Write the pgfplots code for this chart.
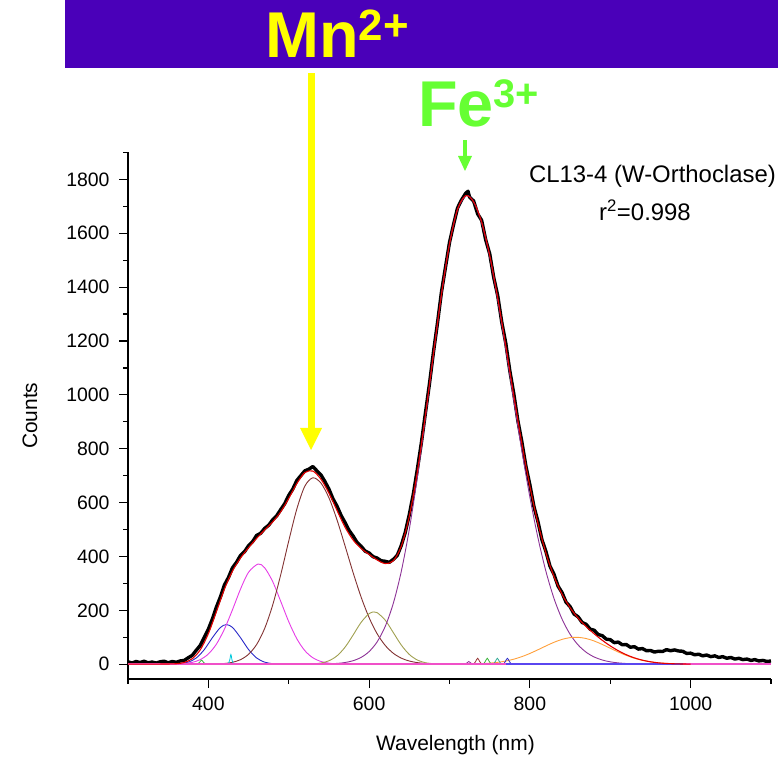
\documentclass[border=0pt]{standalone}
\usepackage{pgfplots}
\pgfplotsset{compat=1.18}
\usepackage{fontspec}
\setmainfont{Liberation Sans}
\definecolor{bannerc}{RGB}{74,0,185}
\definecolor{mnyellow}{RGB}{255,255,0}
\definecolor{fegreen}{RGB}{102,255,51}
\definecolor{cB}{RGB}{40,40,200}
\definecolor{cM}{RGB}{230,60,230}
\definecolor{cR}{RGB}{130,50,50}
\definecolor{cO}{RGB}{160,160,80}
\definecolor{cP}{RGB}{140,50,150}
\definecolor{cOr}{RGB}{255,160,60}
\definecolor{cCy}{RGB}{0,200,220}
\definecolor{cGr}{RGB}{60,180,60}
\definecolor{cTe}{RGB}{50,170,150}
\definecolor{cBr}{RGB}{150,50,50}
\definecolor{pinkc}{RGB}{240,80,200}
\definecolor{bluebase}{RGB}{90,70,240}
\definecolor{fitred}{RGB}{230,0,0}
\begin{document}
\begin{tikzpicture}[x=1bp,y=1bp]
\useasboundingbox (0,0) rectangle (778,757);
% banner
\fill[bannerc] (65,689) rectangle (778,757);
\node[anchor=base west, inner sep=0, text=mnyellow, font=\bfseries\fontsize{65}{65}\selectfont] at (265,699) {Mn\raisebox{17bp}{\fontsize{44}{44}\selectfont 2+}};
\node[anchor=base west, inner sep=0, text=fegreen, font=\bfseries\fontsize{65}{65}\selectfont] at (418,630) {Fe\raisebox{19bp}{\fontsize{40}{40}\selectfont 3+}};
% arrows
\fill[mnyellow] (307.5,684) rectangle (314.5,327);
\fill[mnyellow] (300,329) -- (322,329) -- (311,307) -- cycle;
\fill[fegreen] (463,617) rectangle (467,600);
\fill[fegreen] (458,601) -- (472,601) -- (465,586) -- cycle;
% annotations
\node[anchor=base east, inner sep=0, font=\fontsize{24}{27}\selectfont] at (776,574) {CL13-4 (W-Orthoclase)};
\node[anchor=base, inner sep=0, font=\fontsize{24}{27}\selectfont] at (645,536) {r\textsuperscript{2}=0.998};
\begin{axis}[
  at={(128bp,78bp)}, anchor=south west,
  width=643bp, height=526.5bp, scale only axis,
  xmin=300, xmax=1100, ymin=-55, ymax=1900,
  axis x line*=bottom, axis y line*=left,
  axis line style={line width=1.3bp},
  tick align=outside,
  major tick length=9bp, minor tick length=5bp,
  every tick/.style={line width=1.2bp, black},
  xtick={400,600,800,1000}, minor xtick={300,500,700,900,1100},
  ytick={0,200,...,1800}, minor ytick={100,300,...,1900},
  ticklabel style={font=\fontsize{19.5}{22}\selectfont},
  xticklabel style={yshift=-5bp},
  yticklabel style={xshift=-6bp},
  /pgf/number format/assume math mode=true,
  /pgf/number format/1000 sep={},
  xlabel={Wavelength (nm)}, ylabel={Counts},
  label style={font=\fontsize{21}{24}\selectfont},
  xlabel style={at={(axis description cs:0.5,0)}, anchor=center, yshift=-66bp, xshift=6bp},
  ylabel style={at={(axis description cs:-0.1524,0.5)}, anchor=center, rotate=0},
  clip=false,
]
% measured data
\addplot[black, line width=3.4bp, line join=round] coordinates {
(300,9)(305,4)(310,10)(315,6)(320,11)(325,5)(330,8)(335,4)(340,9)(345,11)(350,5)(355,10)(360,7)(365,12)(370,14)(375,24)(380,33)(385,52)(390,70)(395,100)
(400,130)(405,168)(410,212)(415,250)(420,294)(425,322)(430,358)(435,378)(440,404)(445,418)(450,440)(455,455)(460,478)(465,486)(470,504)(475,516)(480,536)(485,551)(490,574)(495,596)
(500,627)(505,650)(510,682)(515,700)(520,718)(525,724)(530,734)(535,718)(540,703)(545,678)(550,650)(555,614)(560,587)(565,553)(570,526)(575,497)(580,476)(585,452)(590,438)(595,420)
(600,413)(605,399)(610,394)(615,384)(620,382)(625,378)(630,389)(635,404)(640,441)(645,490)(650,556)(655,632)(660,724)(665,822)(670,932)(675,1040)(680,1158)(685,1266)(690,1382)(695,1474)
(700,1566)(705,1632)(710,1694)(715,1724)(720,1748)(723,1756)(725,1734)(730,1720)(735,1672)(740,1648)(745,1576)(750,1524)(755,1436)(760,1368)(765,1270)(770,1192)(775,1090)(780,1004)(785,905)(790,826)(795,736)
(800,666)(805,586)(810,530)(815,462)(820,418)(825,364)(830,334)(835,290)(840,266)(845,230)(850,214)(855,186)(860,176)(865,155)(870,148)(875,130)(880,126)(885,110)(890,106)(895,93)
(900,91)(905,80)(910,82)(915,72)(920,73)(925,63)(930,65)(935,56)(940,58)(945,50)(950,51)(955,45)(960,48)(965,47)(970,54)(975,50)(980,53)(985,49)(990,48)(995,40)
(1000,41)(1005,35)(1010,37)(1015,31)(1020,34)(1025,28)(1030,31)(1035,25)(1040,28)(1045,22)(1050,25)(1055,19)(1060,22)(1065,17)(1070,19)(1075,14)(1080,17)(1085,12)(1090,14)(1095,10)(1100,12)
};
% components
\addplot[cB, line width=0.9bp, smooth] coordinates {(340,0)(355,0.4)(365,1.9)(375,7.6)(385,23.1)(395,54.4)(405,98.3)(415,136.5)(422.5,147)(430,136.5)(440,98.3)(450,54.4)(460,23.1)(470,7.6)(480,1.9)(490,0.4)(500,0)};
\addplot[cM, line width=0.9bp, smooth] coordinates {(340,0)(360,0.8)(370,2.4)(380,6.8)(390,17.1)(400,37.9)(410,74.5)(420,130.4)(430,202.3)(440,279)(450,341.5)(462,372)(470,358)(480,306.8)(490,233.4)(500,157.7)(510,94.5)(520,50.3)(530,23.8)(540,10)(550,3.7)(560,1.2)(580,0)};
\addplot[cR, line width=0.9bp, smooth] coordinates {(400,0)(420,2.7)(430,7)(440,16.8)(450,36.7)(460,72.9)(470,132.5)(480,219.6)(490,332)(500,457.8)(510,575.9)(520,661)(530,692)(540,672.7)(550,617.8)(560,536.2)(570,439.7)(580,340.7)(590,249.4)(600,172.6)(610,112.8)(620,69.7)(630,40.7)(640,22.4)(650,11.7)(660,5.8)(670,2.7)(680,1.2)(700,0)};
\addplot[cO, line width=0.9bp, smooth] coordinates {(510,0)(530,1.3)(540,4.4)(550,12.7)(560,30.9)(570,63)(580,107.9)(590,155.3)(600,188)(606,194)(610,191.3)(620,163.7)(630,117.7)(640,71.1)(650,36.1)(660,15.4)(670,5.5)(680,1.7)(690,0.4)(710,0)};
\addplot[cP, line width=0.9bp, smooth] coordinates {(540,0)(560,2.9)(570,6.2)(580,12.8)(590,25.1)(600,46.9)(610,83)(620,140.2)(630,225.2)(640,344.4)(650,501.1)(660,694.3)(670,915.4)(680,1149)(690,1372.5)(700,1560.4)(710,1688.8)(721,1740)(730,1716.9)(740,1639.3)(750,1514.2)(760,1353.2)(770,1170)(780,978.8)(790,792.1)(800,620.1)(810,469.8)(820,344.3)(830,244.1)(840,167.6)(850,111.2)(860,71.4)(870,44.4)(880,26.7)(890,15.5)(900,8.7)(910,4.8)(920,2.5)(930,1.3)(950,0)(1000,0)};
\addplot[cOr, line width=0.9bp, smooth] coordinates {(720,0)(740,2.1)(750,3.9)(760,6.9)(770,11.7)(780,18.6)(790,28)(800,39.8)(810,53.5)(820,67.8)(830,81.3)(840,92.1)(850,98.6)(860,99.7)(870,95.3)(880,86.1)(890,73.4)(900,59.2)(910,45.1)(920,32.5)(930,22.1)(940,14.2)(950,8.6)(960,4.9)(970,2.7)(980,1.4)(990,0.7)(1000,0)};
% tiny peaks
\addplot[cGr, line width=0.8bp, smooth] coordinates {(386,0)(389,6.8)(391.5,15)(394,6.8)(397,0)};
\addplot[cCy, line width=0.8bp, smooth] coordinates {(424.5,0)(426.5,14.4)(428,36)(429.5,14.4)(431.5,0)};
\addplot[cP, line width=0.8bp, smooth] coordinates {(719,0)(721.5,4.5)(724,10)(726.5,4.5)(729,0)};
\addplot[cBr, line width=0.8bp, smooth] coordinates {(730,0)(732.5,10)(735,22)(737.5,10)(740,0)};
\addplot[cGr, line width=0.8bp, smooth] coordinates {(742,0)(744.5,10)(747,22)(749.5,10)(752,0)};
\addplot[cTe, line width=0.8bp, smooth] coordinates {(754.5,0)(757,10)(759.5,22)(762,10)(764.5,0)};
\addplot[cB, line width=0.8bp, smooth] coordinates {(767,0)(769.5,10)(772,22)(774.5,10)(777,0)};
% baselines
\addplot[pinkc, line width=1.5bp] coordinates {(300,0)(1100,0)};
\addplot[bluebase, line width=1.8bp] coordinates {(770,0)(990,0)};
% fit
\addplot[fitred, line width=1.1bp, smooth] coordinates {(300,0)(340,0.5)(350,0.8)(360,1.7)(370,6.3)(380,20.5)(390,53.8)(400,113.4)(410,195)(420,279)(430,345.8)(440,394.1)(450,432.6)(460,467.1)(470,498.1)(480,528.3)(490,565.8)(500,615.5)(510,670.4)(520,711.3)(530,717.1)(540,687.1)(550,635.2)(560,571.2)(570,508.9)(580,461.4)(590,429.8)(600,407.5)(610,387.1)(620,373.6)(630,383.6)(640,437.9)(650,548.9)(660,715.5)(670,923.6)(680,1151.9)(690,1372.9)(700,1560.4)(710,1688.8)(720,1739.6)(730,1716.9)(740,1641.4)(750,1518.1)(760,1360.1)(770,1181.7)(780,997.4)(790,820.1)(800,659.9)(810,523.3)(820,412.1)(830,325.4)(840,259.7)(850,209.8)(860,171.1)(870,139.7)(880,112.8)(890,88.9)(900,67.9)(910,49.9)(920,35)(930,23.4)(940,14.9)(950,8.9)(960,4.9)(970,2.7)(980,1.4)(990,0.7)(1000,0.3)};
\end{axis}
\end{tikzpicture}
\end{document}
